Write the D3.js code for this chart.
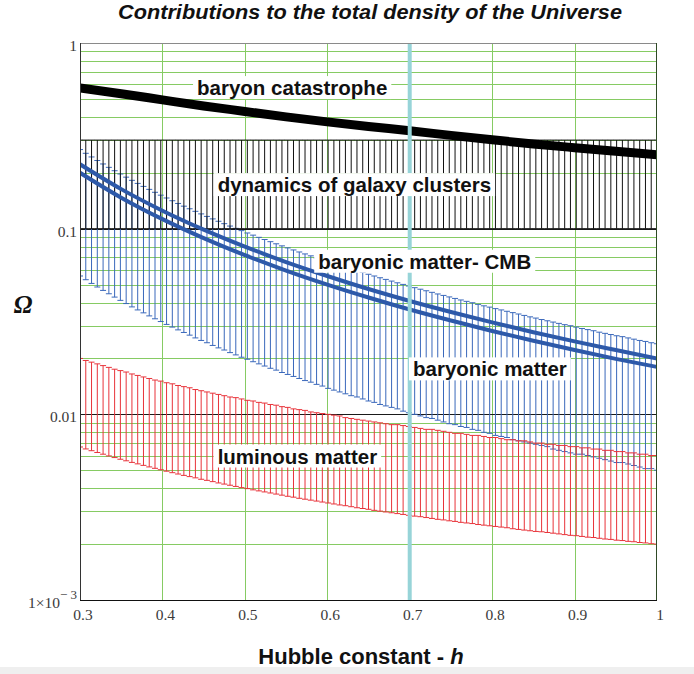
<!DOCTYPE html>
<html>
<head>
<meta charset="utf-8">
<script src="https://cdn.jsdelivr.net/npm/d3@7"></script>
<style>
  html, body { margin: 0; padding: 0; background: #ffffff; }
  svg { display: block; }
</style>
</head>
<body>
<svg id="chart" width="694" height="674"></svg>
<script>
// Hubble parameter grid (h) at which the bounds are evaluated
const hGrid = [
  0.300,0.307,0.314,0.321,0.328,0.335,0.342,0.349,0.356,0.363,
  0.370,0.377,0.384,0.391,0.398,0.405,0.412,0.419,0.426,0.433,
  0.440,0.447,0.454,0.461,0.468,0.475,0.482,0.489,0.496,0.503,
  0.510,0.517,0.524,0.531,0.538,0.545,0.552,0.559,0.566,0.573,
  0.580,0.587,0.594,0.601,0.608,0.615,0.622,0.629,0.636,0.643,
  0.650,0.657,0.664,0.671,0.678,0.685,0.692,0.699,0.706,0.713,
  0.720,0.727,0.734,0.741,0.748,0.755,0.762,0.769,0.776,0.783,
  0.790,0.797,0.804,0.811,0.818,0.825,0.832,0.839,0.846,0.853,
  0.860,0.867,0.874,0.881,0.888,0.895,0.902,0.909,0.916,0.923,
  0.930,0.937,0.944,0.951,0.958,0.965,0.972,0.979,0.986,0.993,
  1.000
];

// Baryonic matter (nucleosynthesis) – upper and lower bounds of Omega
const baryonUpper = [
  0.2667,0.2546,0.2434,0.2329,0.2231,0.2139,0.2052,0.1970,0.1894,0.1821,
  0.1753,0.1689,0.1628,0.1570,0.1515,0.1463,0.1414,0.1367,0.1322,0.1280,
  0.1240,0.1201,0.1164,0.1129,0.1096,0.1064,0.1033,0.1004,0.0976,0.0948,
  0.0923,0.0898,0.0874,0.0851,0.0829,0.0808,0.0788,0.0768,0.0749,0.0731,
  0.0714,0.0696,0.0680,0.0665,0.0649,0.0635,0.0620,0.0606,0.0593,0.0581,
  0.0568,0.0556,0.0544,0.0533,0.0522,0.0511,0.0501,0.0491,0.0481,0.0472,
  0.0463,0.0454,0.0445,0.0437,0.0429,0.0421,0.0413,0.0406,0.0399,0.0391,
  0.0384,0.0378,0.0371,0.0365,0.0359,0.0353,0.0347,0.0341,0.0335,0.0330,
  0.0324,0.0319,0.0314,0.0309,0.0304,0.0300,0.0295,0.0290,0.0286,0.0282,
  0.0277,0.0273,0.0269,0.0265,0.0262,0.0258,0.0254,0.0250,0.0247,0.0243,
  0.0240
];
const baryonLower = [
  0.0556,0.0531,0.0507,0.0485,0.0465,0.0446,0.0428,0.0411,0.0395,0.0379,
  0.0365,0.0352,0.0339,0.0327,0.0316,0.0305,0.0295,0.0285,0.0276,0.0267,
  0.0258,0.0250,0.0243,0.0235,0.0228,0.0222,0.0215,0.0209,0.0203,0.0198,
  0.0192,0.0187,0.0182,0.0177,0.0173,0.0168,0.0164,0.0160,0.0156,0.0152,
  0.0149,0.0145,0.0142,0.0138,0.0135,0.0132,0.0129,0.0126,0.0124,0.0121,
  0.0118,0.0116,0.0113,0.0111,0.0109,0.0107,0.0104,0.0102,0.0100,0.0098,
  0.0096,0.0095,0.0093,0.0091,0.0089,0.0088,0.0086,0.0085,0.0083,0.0082,
  0.0080,0.0079,0.0077,0.0076,0.0075,0.0073,0.0072,0.0071,0.0070,0.0069,
  0.0068,0.0067,0.0065,0.0064,0.0063,0.0062,0.0061,0.0061,0.0060,0.0059,
  0.0058,0.0057,0.0056,0.0055,0.0055,0.0054,0.0053,0.0052,0.0051,0.0051,
  0.0050
];

// Luminous matter – upper and lower bounds of Omega
const luminousUpper = [
  0.0200,0.0195,0.0191,0.0187,0.0183,0.0179,0.0175,0.0172,0.0169,0.0165,
  0.0162,0.0159,0.0156,0.0153,0.0151,0.0148,0.0146,0.0143,0.0141,0.0139,
  0.0136,0.0134,0.0132,0.0130,0.0128,0.0126,0.0124,0.0123,0.0121,0.0119,
  0.0118,0.0116,0.0115,0.0113,0.0112,0.0110,0.0109,0.0107,0.0106,0.0105,
  0.0103,0.0102,0.0101,0.0100,0.0099,0.0098,0.0096,0.0095,0.0094,0.0093,
  0.0092,0.0091,0.0090,0.0089,0.0088,0.0088,0.0087,0.0086,0.0085,0.0084,
  0.0083,0.0083,0.0082,0.0081,0.0080,0.0079,0.0079,0.0078,0.0077,0.0077,
  0.0076,0.0075,0.0075,0.0074,0.0073,0.0073,0.0072,0.0072,0.0071,0.0070,
  0.0070,0.0069,0.0069,0.0068,0.0068,0.0067,0.0067,0.0066,0.0066,0.0065,
  0.0065,0.0064,0.0064,0.0063,0.0063,0.0062,0.0062,0.0061,0.0061,0.0060,
  0.0060
];
const luminousLower = [
  0.00667,0.00651,0.00637,0.00623,0.00610,0.00597,0.00585,0.00573,0.00562,0.00551,
  0.00541,0.00531,0.00521,0.00512,0.00503,0.00494,0.00485,0.00477,0.00469,0.00462,
  0.00455,0.00447,0.00441,0.00434,0.00427,0.00421,0.00415,0.00409,0.00403,0.00398,
  0.00392,0.00387,0.00382,0.00377,0.00372,0.00367,0.00362,0.00358,0.00353,0.00349,
  0.00345,0.00341,0.00337,0.00333,0.00329,0.00325,0.00322,0.00318,0.00314,0.00311,
  0.00308,0.00304,0.00301,0.00298,0.00295,0.00292,0.00289,0.00286,0.00283,0.00281,
  0.00278,0.00275,0.00272,0.00270,0.00267,0.00265,0.00262,0.00260,0.00258,0.00255,
  0.00253,0.00251,0.00249,0.00247,0.00245,0.00242,0.00240,0.00238,0.00236,0.00234,
  0.00233,0.00231,0.00229,0.00227,0.00225,0.00223,0.00222,0.00220,0.00218,0.00217,
  0.00215,0.00213,0.00212,0.00210,0.00209,0.00207,0.00206,0.00204,0.00203,0.00201,
  0.00200
];

// Dynamics of galaxy clusters – constant band of Omega
const clusterLower = 0.1;
const clusterUpper = 0.3;

// Coarser h grid for the continuous curves
const hCurve = [0.30,0.35,0.40,0.45,0.50,0.55,0.60,0.65,0.70,0.75,0.80,0.85,0.90,0.95,1.00];
// Baryonic matter from the CMB (two bounding curves)
const cmbUpper = [0.2222,0.1633,0.1250,0.0988,0.0800,0.0661,0.0556,0.0473,0.0408,0.0356,0.0313,0.0277,0.0247,0.0222,0.0200];
const cmbLower = [0.2000,0.1469,0.1125,0.0889,0.0720,0.0595,0.0500,0.0426,0.0367,0.0320,0.0281,0.0249,0.0222,0.0199,0.0180];
// Baryon catastrophe curve
const catastrophe = [0.573,0.533,0.494,0.458,0.428,0.400,0.376,0.355,0.337,0.318,0.301,0.286,0.273,0.261,0.250];

// Reference value of the Hubble constant
const hMarker = 0.7;

// Axis ticks
const xTicks = [0.3,0.4,0.5,0.6,0.7,0.8,0.9,1.0];
const xTickLabels = ["0.3","0.4","0.5","0.6","0.7","0.8","0.9","1"];
const yTicks = [1,0.1,0.01,0.001];
const yTickLabels = ["1","0.1","0.01","1×10"];

// Annotation labels (anchored at h, Omega)
const labelText = ["baryon catastrophe","dynamics of galaxy clusters","baryonic matter- CMB","baryonic matter","luminous matter"];
const labelH = [0.442,0.467,0.589,0.704,0.467];
const labelOmega = [0.573,0.172,0.0665,0.0175,0.00594];

const SANS = "'Liberation Sans', Arial, sans-serif";
const SERIF = "'Liberation Serif', 'Times New Roman', serif";

const svg = d3.select("#chart");
const plot = {left: 80, right: 657, top: 43, bottom: 600};

const x = d3.scaleLinear().domain([0.3, 1.0]).range([plot.left, plot.right]);
const y = d3.scaleLog().domain([1e-3, 1]).range([plot.bottom, plot.top]);

svg.append("defs").append("clipPath").attr("id", "plotClip")
  .append("rect")
  .attr("x", plot.left).attr("y", plot.top)
  .attr("width", plot.right - plot.left).attr("height", plot.bottom - plot.top);

// bottom grey strip of the window
svg.append("rect").attr("x", 0).attr("y", 667).attr("width", 694).attr("height", 7).attr("fill", "#efefef");

// grid
const grid = svg.append("g");
const minor = [];
[1e-3, 1e-2, 1e-1].forEach(d => { for (let m = 2; m <= 9; m++) minor.push(d * m); });
grid.selectAll("line.hminor").data(minor).join("line")
  .attr("x1", plot.left).attr("x2", plot.right)
  .attr("y1", d => Math.round(y(d)) + 0.5).attr("y2", d => Math.round(y(d)) + 0.5)
  .attr("stroke", "#86cb63").attr("stroke-width", 1);
grid.selectAll("line.vgrid").data(xTicks.slice(1, -1)).join("line")
  .attr("x1", d => Math.round(x(d)) + 0.5).attr("x2", d => Math.round(x(d)) + 0.5)
  .attr("y1", plot.top).attr("y2", plot.bottom)
  .attr("stroke", "#86cb63").attr("stroke-width", 1);
grid.selectAll("line.hmajor").data([0.1, 0.01]).join("line")
  .attr("x1", plot.left).attr("x2", plot.right)
  .attr("y1", d => Math.round(y(d)) + 0.5).attr("y2", d => Math.round(y(d)) + 0.5)
  .attr("stroke", "#1a1a1a").attr("stroke-width", 1);

const marks = svg.append("g").attr("clip-path", "url(#plotClip)");
const capW = 3;

// range bars with caps at each h
function rangeBars(lower, upper, color) {
  const g = marks.append("g").attr("stroke", color).attr("stroke-width", 1).attr("fill", "none");
  g.selectAll("path").data(hGrid).join("path")
    .attr("d", (h, i) => {
      const lo = typeof lower === "number" ? lower : lower[i];
      const hi = typeof upper === "number" ? upper : upper[i];
      const px = x(h), y0 = y(lo), y1 = y(hi);
      return `M${px},${y0}V${y1}M${px - capW},${y1}H${px + capW}M${px - capW},${y0}H${px + capW}`;
    });
}

rangeBars(baryonLower, baryonUpper, "#3a68bb");
rangeBars(luminousLower, luminousUpper, "#e8333a");
rangeBars(clusterLower, clusterUpper, "#111111");

// continuous curves
const line = d3.line().x(d => x(d[0])).y(d => y(d[1])).curve(d3.curveMonotoneX);
[cmbUpper, cmbLower].forEach(vals => {
  marks.append("path")
    .attr("d", line(hCurve.map((h, i) => [h, vals[i]])))
    .attr("fill", "none").attr("stroke", "#2d59a9").attr("stroke-width", 4);
});
marks.append("path")
  .attr("d", line(hCurve.map((h, i) => [h, catastrophe[i]])))
  .attr("fill", "none").attr("stroke", "#000000").attr("stroke-width", 9);

// h = 0.7 marker
marks.append("line")
  .attr("x1", x(hMarker)).attr("x2", x(hMarker))
  .attr("y1", plot.top).attr("y2", plot.bottom)
  .attr("stroke", "#97d4d8").attr("stroke-width", 4);

// annotation labels with white boxes
const labels = svg.append("g");
labelText.forEach((t, i) => {
  const g = labels.append("g");
  const txt = g.append("text")
    .attr("x", x(labelH[i])).attr("y", y(labelOmega[i]))
    .attr("dy", "0.35em")
    .attr("font-family", SANS).attr("font-weight", "bold").attr("font-size", 20.5)
    .attr("fill", "#111").text(t);
  const bb = txt.node().getBBox();
  g.insert("rect", "text")
    .attr("x", bb.x - 4).attr("y", bb.y)
    .attr("width", bb.width + 8).attr("height", bb.height)
    .attr("fill", "#ffffff");
});

// frame
svg.append("line").attr("x1", plot.left).attr("x2", plot.right).attr("y1", plot.top + 0.5).attr("y2", plot.top + 0.5)
  .attr("stroke", "#8a8a8a");
svg.append("line").attr("x1", plot.right - 0.5).attr("x2", plot.right - 0.5).attr("y1", plot.top).attr("y2", plot.bottom)
  .attr("stroke", "#2f4a26");
svg.append("line").attr("x1", plot.left + 0.5).attr("x2", plot.left + 0.5).attr("y1", plot.top).attr("y2", plot.bottom + 0.5)
  .attr("stroke", "#333");
svg.append("line").attr("x1", plot.left).attr("x2", plot.right).attr("y1", plot.bottom + 0.5).attr("y2", plot.bottom + 0.5)
  .attr("stroke", "#111");

// x tick labels
svg.append("g").selectAll("text").data(xTicks).join("text")
  .attr("x", d => x(d) + 3).attr("y", 620)
  .attr("text-anchor", "middle")
  .attr("font-family", SERIF).attr("font-size", 15.5).attr("fill", "#3a3a3a")
  .text((d, i) => xTickLabels[i]);

// y tick labels
const yLab = svg.append("g").selectAll("text").data(yTicks).join("text")
  .attr("x", 77).attr("y", d => y(d) + 8)
  .attr("text-anchor", "end")
  .attr("font-family", SERIF).attr("font-size", 15.5).attr("fill", "#3a3a3a");
yLab.each(function(d, i) {
  const t = d3.select(this);
  if (d === 0.001) {
    t.append("tspan").text(yTickLabels[i]);
    t.append("tspan").attr("dy", -9).attr("font-size", 13).text("− 3");
  } else {
    t.text(yTickLabels[i]);
  }
});

// titles
svg.append("text").attr("x", 370).attr("y", 19)
  .attr("text-anchor", "middle")
  .attr("font-family", SANS).attr("font-weight", "bold").attr("font-style", "italic")
  .attr("font-size", 21).attr("fill", "#111")
  .attr("textLength", 504).attr("lengthAdjust", "spacingAndGlyphs")
  .text("Contributions to the total density of the Universe");

const xt = svg.append("text").attr("x", 361).attr("y", 664)
  .attr("text-anchor", "middle")
  .attr("font-family", SANS).attr("font-weight", "bold").attr("font-size", 22).attr("fill", "#111");
xt.append("tspan").text("Hubble constant - ");
xt.append("tspan").attr("font-style", "italic").text("h");

svg.append("text").attr("x", 23).attr("y", 313)
  .attr("text-anchor", "middle")
  .attr("font-family", SERIF).attr("font-style", "italic").attr("font-weight", "bold")
  .attr("font-size", 25).attr("fill", "#111")
  .text("Ω");
</script>
</body>
</html>
